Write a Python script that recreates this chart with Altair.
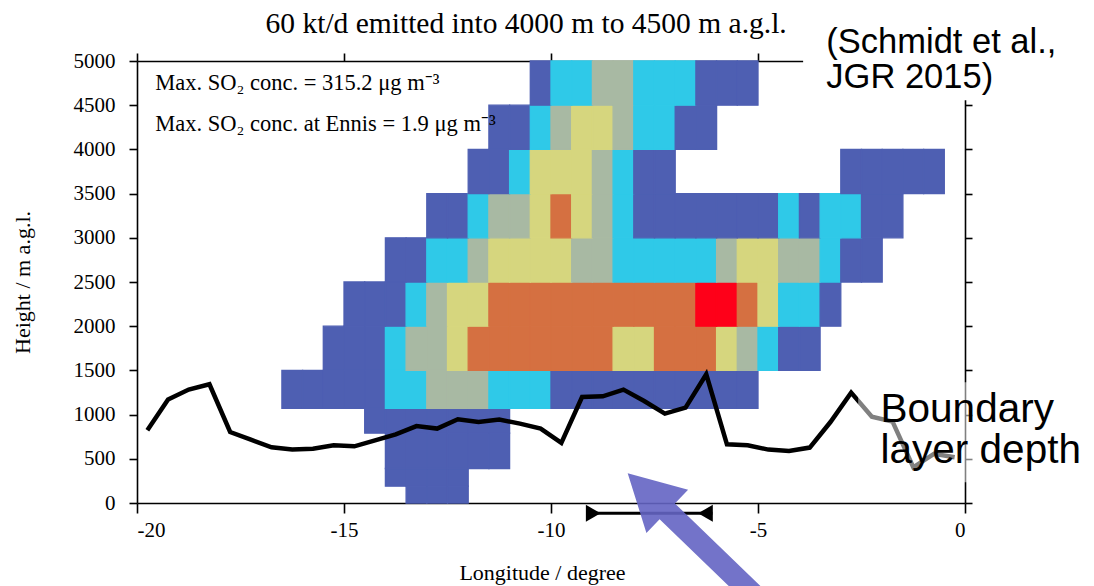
import altair as alt
import pandas as pd

# ---------------- data ----------------
# model levels (m a.g.l.) of each grid row
row_bottom = [0, 190, 390, 790, 1070, 1500, 2000, 2500, 3000, 3500, 4000, 4500]
row_top = [190, 390, 790, 1070, 1500, 2000, 2500, 3000, 3500, 4000, 4500, 5000]
# longitude of the first cell in every row, cells are 0.5 degree wide
row_first_lon = [-13.5, -14, -14, -14.5, -16.5, -15.5, -15, -14, -13, -12, -11.5, -10.5]
cell_width = 0.5
# concentration class of each cell, left to right (0 = no cell)
row_codes = [
    "111",
    "1111",
    "111111",
    "1111111",
    "11111223332221111111111",
    "111233455555554455543211",
    "111234455555555556654221",
    "112234444332222234433211",
    "11233454321111111212211",
    "11244432110000000011111",
    "11234432211",
    "12233222111",
]
level_names = ["1", "2", "3", "4", "5", "6"]
level_colors = ["#4E5FB2", "#2FC9E8", "#A8B9A3", "#D6D67E", "#D57041", "#FE0019"]

# boundary layer depth
bl_lon = [-19.75, -19.25, -18.75, -18.25, -17.75, -17.25, -16.75, -16.25, -15.75, -15.25,
          -14.75, -14.25, -13.75, -13.25, -12.75, -12.25, -11.75, -11.25, -10.75, -10.25,
          -9.75, -9.25, -8.75, -8.25, -7.75, -7.25, -6.75, -6.25, -5.75, -5.25,
          -4.75, -4.25, -3.75, -3.25, -2.75, -2.25, -1.75, -1.25, -0.75, -0.25]
bl_height = [822, 1170, 1283, 1343, 803, 717, 630, 604, 615, 653,
             641, 709, 777, 870, 842, 947, 916, 943, 898, 842,
             680, 1199, 1207, 1283, 1154, 1011, 1079, 1456, 664, 653,
             604, 588, 627, 916, 1249, 975, 920, 404, 556, 518]

x_ticks = [-20, -15, -10, -5, 0]
y_ticks = [0, 500, 1000, 1500, 2000, 2500, 3000, 3500, 4000, 4500, 5000]

title_text = ["60 kt/d emitted into 4000 m to 4500 m a.g.l."]
title_lon = [-10.6]
title_h = [5320]

info_text = ["Max. SO\u2082 conc. = 315.2 \u03bcg m\u207b\u00b3",
             "Max. SO\u2082 conc. at Ennis = 1.9 \u03bcg m\u207b\u00b3"]
info_lon = [-19.56, -19.56]
info_h = [4669, 4205]

ref_text = ["(Schmidt et al.,", "JGR 2015)"]
ref_lon = [-3.35, -3.35]
ref_h = [5087, 4691]

bl_label = ["Boundary", "layer depth"]
bl_label_lon = [-2.04, -2.04]
bl_label_h = [913, 449]

# white boxes behind the annotations (lon/height extents)
box_lon = [-3.91, -2.58]
box_lon2 = [4.0, 4.0]
box_h = [4555, 234]
box_h2 = [6500, 1365]
box_opacity = [1.0, 0.5]

# range bar below the axis
range_lon = [-9.12]
range_lon2 = [-6.1]
range_h = [-117]
range_tri_lon = [-8.98, -6.27]
range_tri_shape = ["triangle-right", "triangle-left"]

# arrow
arrow_lon = [-6.41]
arrow_h = [-448]

# ---------------- build tables ----------------
cells = []
for b, t, lon0, codes in zip(row_bottom, row_top, row_first_lon, row_codes):
    for j, ch in enumerate(codes):
        if ch != "0":
            x0 = lon0 + cell_width * j
            cells.append({"lon": x0, "lon2": x0 + cell_width, "h": b, "h2": t, "level": ch})
cells = pd.DataFrame(cells)

bl = pd.DataFrame({"lon": bl_lon, "h": bl_height})

SERIF = "Liberation Serif"
SANS = "Liberation Sans"

xs = alt.Scale(domain=[-20, 0], nice=False, zero=False)
ys = alt.Scale(domain=[0, 5000], nice=False, zero=False)

common_axis = dict(
    domainColor="black", domainWidth=1.6, tickColor="black", tickWidth=1.6,
    grid=False, zindex=0,
)

x_bottom = alt.Axis(
    orient="bottom", values=x_ticks, tickSize=10, labelPadding=6,
    labelFont=SERIF, labelFontSize=21, labelColor="black",
    labelExpr="'' + datum.value",
    title="Longitude / degree", titleFont=SERIF, titleFontSize=22,
    titleFontWeight="normal", titleColor="black",
    titleX=405, titleY=76, titleBaseline="alphabetic", titleAlign="center",
    **common_axis,
)
y_left = alt.Axis(
    orient="left", values=y_ticks, tickSize=8, labelPadding=14,
    labelFont=SERIF, labelFontSize=21, labelColor="black",
    labelExpr="'' + datum.value",
    title="Height / m a.g.l.", titleFont=SERIF, titleFontSize=22,
    titleFontWeight="normal", titleColor="black",
    titleX=-115, titleY=221, titleAngle=270, titleBaseline="middle", titleAlign="center",
    **common_axis,
)
x_top = alt.Axis(orient="top", values=x_ticks, tickSize=8, labels=False, title=None, **common_axis)
y_right = alt.Axis(orient="right", values=y_ticks, tickSize=7, labels=False, title=None, **common_axis)

heat = alt.Chart(cells).mark_rect(strokeWidth=1.3).encode(
    x=alt.X("lon:Q", scale=xs, axis=x_bottom),
    x2="lon2:Q",
    y=alt.Y("h:Q", scale=ys, axis=y_left),
    y2="h2:Q",
    color=alt.Color("level:N", scale=alt.Scale(domain=level_names, range=level_colors), legend=None),
    stroke=alt.Color("level:N", scale=alt.Scale(domain=level_names, range=level_colors), legend=None),
)

line = alt.Chart(bl).mark_line(color="black", strokeWidth=4.5).encode(
    x=alt.X("lon:Q", scale=xs, axis=x_top),
    y=alt.Y("h:Q", scale=ys, axis=y_right),
)

boxes = alt.Chart(pd.DataFrame({"lon": box_lon, "lon2": box_lon2, "h": box_h, "h2": box_h2,
                                "op": box_opacity})).mark_rect(color="white").encode(
    x=alt.X("lon:Q", scale=xs, axis=None), x2="lon2:Q",
    y=alt.Y("h:Q", scale=ys, axis=None), y2="h2:Q",
    opacity=alt.Opacity("op:Q", scale=None, legend=None),
)


def text_layer(texts, lons, hs, font, size, align):
    return alt.Chart(pd.DataFrame({"t": texts, "lon": lons, "h": hs})).mark_text(
        font=font, fontSize=size, align=align, baseline="alphabetic", color="black"
    ).encode(
        x=alt.X("lon:Q", scale=xs, axis=None),
        y=alt.Y("h:Q", scale=ys, axis=None),
        text="t:N",
    )


title_layer = text_layer(title_text, title_lon, title_h, SERIF, 29.5, "center")
info_layer = text_layer(info_text, info_lon, info_h, SERIF, 22.5, "left")
ref_layer = text_layer(ref_text, ref_lon, ref_h, SANS, 34.5, "left")
bl_text_layer = text_layer(bl_label, bl_label_lon, bl_label_h, SANS, 40.5, "left")

range_rule = alt.Chart(pd.DataFrame({"lon": range_lon, "lon2": range_lon2, "h": range_h})).mark_rule(
    color="black", strokeWidth=3
).encode(
    x=alt.X("lon:Q", scale=xs, axis=None), x2="lon2:Q",
    y=alt.Y("h:Q", scale=ys, axis=None),
)
range_tri = alt.Chart(pd.DataFrame({"lon": range_tri_lon, "h": range_h * 2,
                                    "s": range_tri_shape})).mark_point(
    filled=True, color="black", size=290, opacity=1
).encode(
    x=alt.X("lon:Q", scale=xs, axis=None),
    y=alt.Y("h:Q", scale=ys, axis=None),
    shape=alt.Shape("s:N", scale=None, legend=None),
)

arrow_path = "M0,-1L0.3,-0.45L0.11,-0.45L0.11,1L-0.11,1L-0.11,-0.45L-0.3,-0.45Z"
arrow = alt.Chart(pd.DataFrame({"lon": arrow_lon, "h": arrow_h})).mark_point(
    shape=arrow_path, filled=True, color="#6464C3", opacity=0.9, size=40000, angle=314, strokeWidth=0
).encode(
    x=alt.X("lon:Q", scale=xs, axis=None),
    y=alt.Y("h:Q", scale=ys, axis=None),
)

chart = alt.layer(
    heat, line, boxes, title_layer, info_layer, ref_layer, bl_text_layer,
    range_rule, range_tri, arrow,
).resolve_axis(x="independent", y="independent").properties(
    width=828, height=442,
    autosize=alt.AutoSizeParams(type="none"),
    padding={"left": 129, "top": 53, "right": 121, "bottom": 83},
).configure_view(stroke=None)

chart.save("out.html", embed_options={"renderer": "svg", "actions": False})
